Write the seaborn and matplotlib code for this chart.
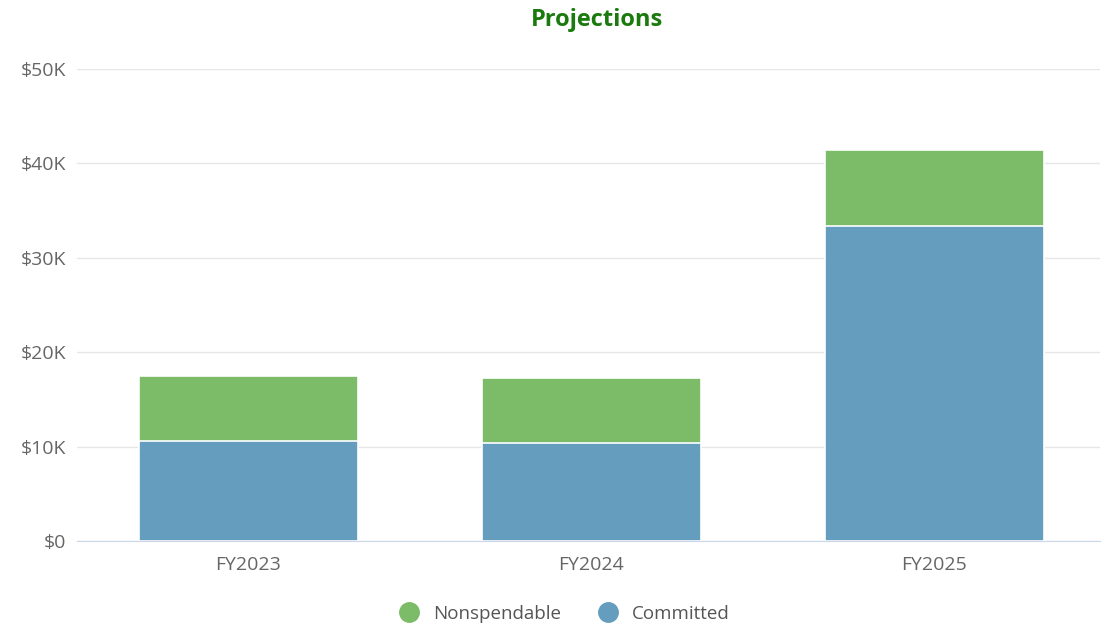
import pandas as pd
import numpy as np
import seaborn as sns
import matplotlib.pyplot as plt
from matplotlib.lines import Line2D

anios = ['FY2023', 'FY2024', 'FY2025']
committed = [10.6, 10.4, 33.4]
nonspendable = [6.9, 6.9, 8.0]
ticks_y = [0, 10, 20, 30, 40, 50]

verde = '#7cbb67'
azul = '#659dbf'

df = pd.DataFrame({'anio': anios, 'committed': committed, 'nonspendable': nonspendable})
df['total'] = df['committed'] + df['nonspendable']

sns.set_style('white')
plt.rcParams['font.family'] = ['Open Sans', 'DejaVu Sans']

fig = plt.figure(figsize=(11.02, 6.29), dpi=100)
ax = fig.add_axes([0.0699, 0.1399, 0.9283, 0.7504])

sns.barplot(data=df, x='anio', y='total', color=verde, saturation=1, width=0.638,
            edgecolor='white', linewidth=1.2, ax=ax)
sns.barplot(data=df, x='anio', y='committed', color=azul, saturation=1, width=0.638,
            edgecolor='white', linewidth=1.2, ax=ax)

ax.set_ylim(0, 50)
ax.set_xlim(-0.5, 2.483)
ax.set_yticks(ticks_y)
ax.set_yticklabels([f'${v}K' if v else '$0' for v in ticks_y])
ax.yaxis.grid(True, color='#e6e6e6', linewidth=1)
ax.set_axisbelow(True)
ax.set_xlabel('')
ax.set_ylabel('')
for s in ['top', 'right', 'left']:
    ax.spines[s].set_visible(False)
ax.spines['bottom'].set_color('#ccd6eb')
ax.tick_params(axis='both', length=0, labelsize=14, colors='#666666')
ax.tick_params(axis='y', pad=8)
ax.tick_params(axis='x', pad=11)

fig.suptitle('Projections', x=0.542, y=0.988, fontsize=17, fontweight='bold', color='#1a7a0e')

handles = [Line2D([], [], marker='o', linestyle='', markersize=14, color=verde),
           Line2D([], [], marker='o', linestyle='', markersize=14, color=azul)]
fig.legend(handles, ['Nonspendable', 'Committed'], loc='center', bbox_to_anchor=(0.508, 0.024),
           ncol=2, frameon=False, fontsize=13.5, labelcolor='#555555', handletextpad=0.3,
           columnspacing=1.5)

plt.savefig('out.png', dpi=100)
